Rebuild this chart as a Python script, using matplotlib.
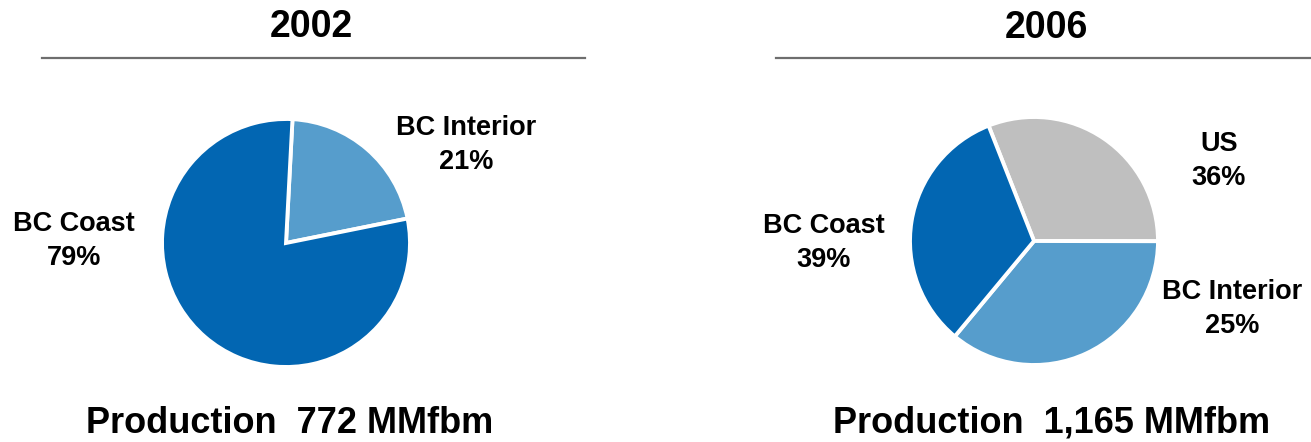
import matplotlib
matplotlib.use("Agg")
import matplotlib.pyplot as plt
from matplotlib.lines import Line2D

plt.rcParams['font.family'] = ['Liberation Sans', 'DejaVu Sans']

W, H = 1311, 442

# 2002 pie
years = ["2002", "2006"]
cats_2002 = ["BC Interior", "BC Coast"]
shares_2002 = [21, 79]            # wedge sizes as drawn
pct_2002 = ["21%", "79%"]
prod_2002 = "Production  772 MMfbm"

# 2006 pie (wedge sizes as drawn in the picture; the printed labels differ)
cats_2006 = ["US", "BC Interior", "BC Coast"]
shares_2006 = [31, 36, 33]
pct_2006 = ["36%", "25%", "39%"]
prod_2006 = "Production  1,165 MMfbm"

DARK = "#0266B2"
LIGHT = "#569DCC"
GREY = "#BFBFBF"

fig = plt.figure(figsize=(W / 100, H / 100), dpi=100)


def px(x, y):
    # pixel coords (from top-left) -> figure fraction
    return x / W, 1 - y / H


def pie_axes(cx, cy, r):
    ax = fig.add_axes([(cx - r) / W, 1 - (cy + r) / H, 2 * r / W, 2 * r / H])
    return ax


wp = dict(edgecolor="white", linewidth=2.8)

ax1 = pie_axes(286, 243, 124)
ax1.pie(shares_2002, colors=[LIGHT, DARK], startangle=87, counterclock=False,
        wedgeprops=wp)
ax1.set_xlim(-1, 1)
ax1.set_ylim(-1, 1)

ax2 = pie_axes(1034, 241, 124)
ax2.pie(shares_2006, colors=[GREY, LIGHT, DARK], startangle=111.5, counterclock=False,
        wedgeprops=wp)
ax2.set_xlim(-1, 1)
ax2.set_ylim(-1, 1)

lab = dict(fontsize=19.5, fontweight="bold", ha="center", va="center", linespacing=1.4)

# 2002 labels
fig.text(*px(466, 145), cats_2002[0] + "\n" + pct_2002[0], **lab)
fig.text(*px(74, 241), cats_2002[1] + "\n" + pct_2002[1], **lab)

# 2006 labels
fig.text(*px(1219, 161), cats_2006[0] + "\n" + pct_2006[0], **lab)
fig.text(*px(1232, 309), cats_2006[1] + "\n" + pct_2006[1], **lab)
fig.text(*px(824, 243), cats_2006[2] + "\n" + pct_2006[2], **lab)

# titles and rules
fig.text(*px(311, 27), years[0], fontsize=27, fontweight="bold", ha="center", va="center")
fig.text(*px(1046, 28), years[1], fontsize=27, fontweight="bold", ha="center", va="center")
for x0, x1, y in [(42, 585, 57.5), (776, 1311, 58)]:
    fig.add_artist(Line2D([x0 / W, x1 / W], [1 - y / H, 1 - y / H],
                          color="#6E6E6E", linewidth=1.6))

# production totals
fig.text(*px(290, 441), prod_2002, fontsize=26, fontweight="bold", ha="center", va="bottom")
fig.text(*px(1052, 441), prod_2006, fontsize=26, fontweight="bold", ha="center", va="bottom")

fig.savefig("out.png", dpi=100, facecolor="white")
